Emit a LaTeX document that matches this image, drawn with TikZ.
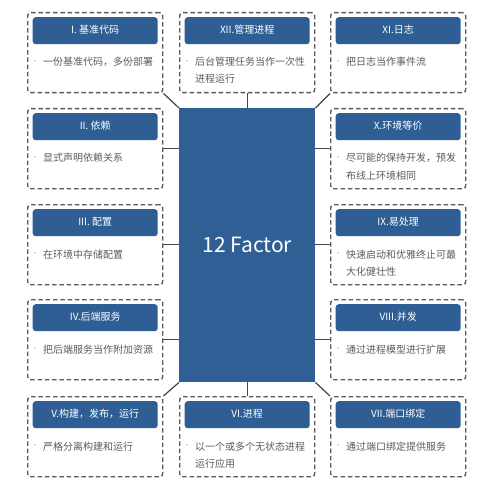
\documentclass[tikz,border=0pt]{standalone}
\usepackage{fontspec}
\setmainfont{Noto Sans CJK SC}
\definecolor{barblue}{HTML}{2E5E94}
\definecolor{ctrblue}{HTML}{2F5F94}
\definecolor{dashgray}{HTML}{5A5A5A}
\definecolor{txtgray}{HTML}{5C5C5C}
\definecolor{conngray}{HTML}{454545}
\tikzset{
  dbox/.style={draw=dashgray, dashed, dash pattern=on 4.5pt off 2.8pt, line width=1.4pt,
    rounded corners=3pt, minimum width=135pt, minimum height=80pt, inner sep=0pt, fill=white},
  tbar/.style={fill=barblue, rounded corners=3pt, minimum width=125pt, minimum height=27pt,
    inner sep=0pt, text=white, font=\fontsize{10}{12}\selectfont, text height=8pt, text depth=2pt},
  btext/.style={inner sep=0pt, text=txtgray, font=\fontsize{10}{12}\selectfont, anchor=base west},
  bdot/.style={inner sep=0pt, text=txtgray!70, font=\fontsize{6}{7}\selectfont, anchor=center},
  conn/.style={draw=conngray, line width=1.2pt},
  ctrbox/.style={fill=ctrblue, minimum width=136pt, minimum height=274pt, inner sep=0pt,
    text=white, font=\fontsize{21}{24}\selectfont}
}
\newcommand\fcbox[6]{%
  \node[dbox, anchor=north west] (#1) at (#2,#3) {};
  \node[tbar, anchor=north] (#1t) at ([yshift=-5pt]#1.north) {#4};
  \node[bdot] (#1d) at ([xshift=8pt,yshift=-50pt]#1.north west) {•};
  \node[btext] (#1a) at ([xshift=16pt,yshift=-54pt]#1.north west) {#5};
  \node[btext] (#1b) at ([xshift=16pt,yshift=-71pt]#1.north west) {#6};
}
\begin{document}
\begin{tikzpicture}[x=1pt,y=-1pt]
\useasboundingbox[fill=white] (0,0) rectangle (500,489);
\node[ctrbox, anchor=north west] (ctr) at (179,108) {12 Factor};
% boxes
\fcbox{b1}{27}{12}{I. 基准代码}{一份基准代码，多份部署}{}
\fcbox{b12}{179}{12}{XII.管理进程}{后台管理任务当作一次性}{进程运行}
\fcbox{b11}{330}{12}{XI.日志}{把日志当作事件流}{}
\fcbox{b2}{27}{108}{II. 依赖}{显式声明依赖关系}{}
\fcbox{b10}{330}{108}{X.环境等价}{尽可能的保持开发，预发}{布线上环境相同}
\fcbox{b3}{27}{204}{III. 配置}{在环境中存储配置}{}
\fcbox{b9}{330}{204}{IX.易处理}{快速启动和优雅终止可最}{大化健壮性}
\fcbox{b4}{27}{299}{IV.后端服务}{把后端服务当作附加资源}{}
\fcbox{b8}{330}{299}{VIII.并发}{通过进程模型进行扩展}{}
\fcbox{b5}{27}{396}{V.构建，发布，运行}{严格分离构建和运行}{}
\fcbox{b6}{179}{396}{VI.进程}{以一个或多个无状态进程}{运行应用}
\fcbox{b7}{330}{396}{VII.端口绑定}{通过端口绑定提供服务}{}
% connectors
\draw[conn] (b1.south east) -- (ctr.north west);
\draw[conn] (b12.south) -- (b12.south |- ctr.north);
\draw[conn] (b11.south west) -- (ctr.north east);
\draw[conn] (b2.east) -- (b2.east -| ctr.west);
\draw[conn] (b10.west) -- (b10.west -| ctr.east);
\draw[conn] (b3.east) -- (b3.east -| ctr.west);
\draw[conn] (b9.west) -- (b9.west -| ctr.east);
\draw[conn] (b4.east) -- (b4.east -| ctr.west);
\draw[conn] (b8.west) -- (b8.west -| ctr.east);
\draw[conn] (b5.north east) -- (ctr.south west);
\draw[conn] (b6.north) -- (b6.north |- ctr.south);
\draw[conn] (b7.north west) -- (ctr.south east);
\end{tikzpicture}
\end{document}
